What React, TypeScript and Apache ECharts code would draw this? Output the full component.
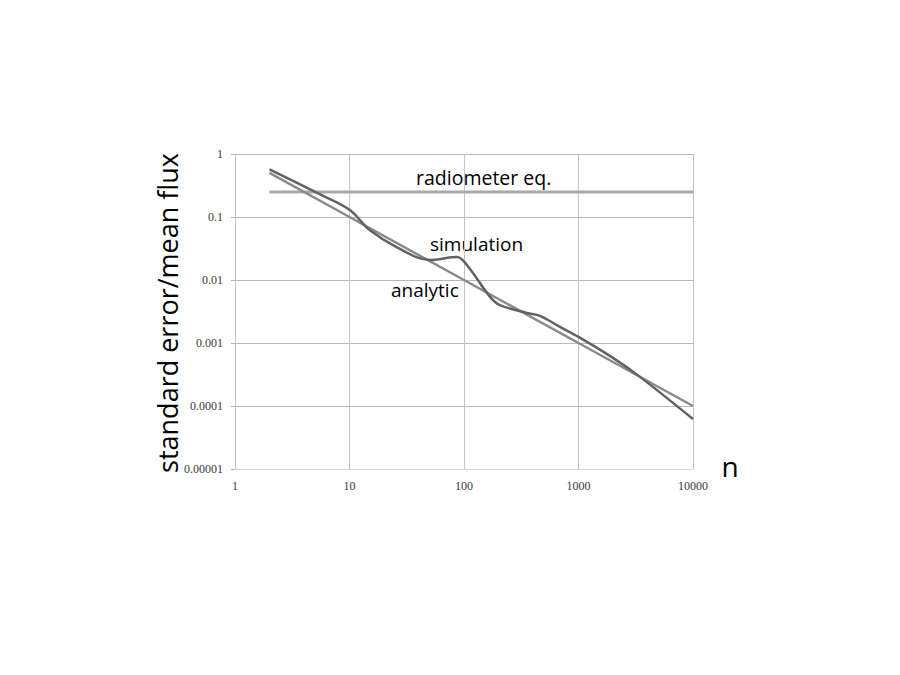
import React, { useEffect, useRef } from "react";
import * as echarts from "echarts";

const xTickLabels = ["1", "10", "100", "1000", "10000"];
const yTickLabels = ["0.00001", "0.0001", "0.001", "0.01", "0.1", "1"];

const simN = [2, 5.5, 10, 15, 26, 50, 87, 106, 169, 206, 355, 461, 689, 1000, 2000, 3443, 10000];
const simV = [0.57, 0.23, 0.13, 0.062, 0.033, 0.0208, 0.0232, 0.0173, 0.0054, 0.004, 0.003, 0.0027, 0.0018, 0.00125, 0.00058, 0.00029, 0.000062];

const analyticN = [2, 10, 100, 1000, 10000];
const analyticV = [0.5, 0.1, 0.01, 0.001, 0.0001];

const radioN = [2, 10000];
const radioV = [0.25, 0.25];

const SANS = "'Open Sans', sans-serif";
const SERIF = "'Liberation Serif', serif";

export default function App() {
  const ref = useRef<HTMLDivElement>(null);
  useEffect(() => {
    document.body.style.margin = "0";
    const chart = echarts.init(ref.current!, null, { renderer: "svg" });
    const pick = (labels: string[], v: number, offset: number) => {
      const i = Math.round(Math.log10(v)) + offset;
      return labels[i] ?? "";
    };
    chart.setOption({
      animation: false,
      backgroundColor: "#ffffff",
      grid: { left: 235, right: 207, top: 154, bottom: 206, containLabel: false },
      xAxis: {
        type: "log",
        logBase: 10,
        min: 1,
        max: 10000,
        axisLine: { show: true, lineStyle: { color: "#d9d9d9", width: 1 } },
        axisTick: { show: false },
        splitLine: { show: true, lineStyle: { color: "#c4c4c4", width: 1 } },
        minorTick: { show: false },
        axisLabel: {
          color: "#3a3a3a",
          fontFamily: SERIF,
          fontSize: 12,
          margin: 11,
          formatter: (v: number) => pick(xTickLabels, v, 0),
        },
      },
      yAxis: {
        type: "log",
        logBase: 10,
        min: 0.00001,
        max: 1,
        axisLine: { show: true, lineStyle: { color: "#c4c4c4", width: 1 } },
        axisTick: { show: true, length: 4, lineStyle: { color: "#b0b0b0" } },
        splitLine: { show: true, lineStyle: { color: "#b8b8b8", width: 1 } },
        axisLabel: {
          color: "#3a3a3a",
          fontFamily: SERIF,
          fontSize: 12,
          margin: 12,
          formatter: (v: number) => pick(yTickLabels, v, 5),
        },
      },
      graphic: [
        {
          type: "text",
          x: 167,
          y: 313,
          rotation: Math.PI / 2,
          style: {
            text: "standard error/mean flux",
            fontFamily: SANS,
            fontSize: 27,
            fill: "#000",
            textAlign: "center",
            textVerticalAlign: "middle",
          },
        },
        {
          type: "text",
          x: 730,
          y: 466,
          style: {
            text: "n",
            fontFamily: SANS,
            fontSize: 28,
            fill: "#000",
            textAlign: "center",
            textVerticalAlign: "middle",
          },
        },
        {
          type: "text",
          x: 416,
          y: 177,
          style: { text: "radiometer eq.", fontFamily: SANS, fontSize: 19.5, fill: "#000", textVerticalAlign: "middle" },
        },
        {
          type: "text",
          x: 430,
          y: 244,
          style: { text: "simulation", fontFamily: SANS, fontSize: 19, fill: "#000", textVerticalAlign: "middle" },
        },
        {
          type: "text",
          x: 391,
          y: 290,
          style: { text: "analytic", fontFamily: SANS, fontSize: 19, fill: "#000", textVerticalAlign: "middle" },
        },
      ],
      series: [
        {
          name: "radiometer eq.",
          type: "line",
          data: radioN.map((n, i) => [n, radioV[i]]),
          showSymbol: false,
          lineStyle: { color: "#a8a8a8", width: 3 },
        },
        {
          name: "analytic",
          type: "line",
          data: analyticN.map((n, i) => [n, analyticV[i]]),
          showSymbol: false,
          lineStyle: { color: "#8a8a8a", width: 2.5 },
        },
        {
          name: "simulation",
          type: "line",
          data: simN.map((n, i) => [n, simV[i]]),
          showSymbol: false,
          smooth: 0.35,
          lineStyle: { color: "#626262", width: 2.5 },
        },
      ],
    });
    return () => chart.dispose();
  }, []);
  return <div ref={ref} style={{ position: "absolute", left: 0, top: 0, width: 900, height: 675 }} />;
}
